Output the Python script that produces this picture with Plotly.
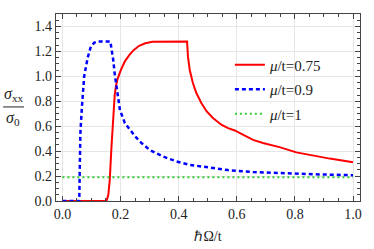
import plotly.graph_objects as go

red_x = [0.0, 0.152, 0.158, 0.163, 0.169, 0.175, 0.18, 0.184, 0.19, 0.201, 0.215, 0.23, 0.245, 0.264,
         0.285, 0.31, 0.35, 0.429, 0.432, 0.438, 0.449, 0.461, 0.478, 0.496, 0.518, 0.547, 0.57, 0.593,
         0.621, 0.656, 0.69, 0.75, 0.805, 0.86, 0.92, 1.0]
red_y = [0.0, 0.0, 0.05, 0.17, 0.44, 0.70, 0.85, 0.92, 0.98, 1.05, 1.12, 1.17, 1.21, 1.245,
         1.265, 1.278, 1.28, 1.28, 1.16, 1.053, 0.946, 0.866, 0.786, 0.72, 0.666, 0.612, 0.585, 0.566,
         0.532, 0.49, 0.465, 0.43, 0.39, 0.365, 0.34, 0.31]

blue_x = [0.0, 0.058, 0.060, 0.062, 0.067, 0.075, 0.087, 0.098, 0.11, 0.121, 0.165, 0.168, 0.175,
          0.18, 0.184, 0.19, 0.198, 0.215, 0.232, 0.25, 0.266, 0.30, 0.346, 0.392, 0.438, 0.507,
          0.57, 0.656, 0.77, 0.885, 1.0]
blue_y = [0.0, 0.0, 0.3, 0.55, 0.75, 1.0, 1.15, 1.24, 1.27, 1.28, 1.28, 1.24, 1.13,
          1.02, 0.95, 0.85, 0.73, 0.625, 0.57, 0.52, 0.478, 0.41, 0.357, 0.318, 0.29, 0.265,
          0.248, 0.232, 0.22, 0.213, 0.207]

green_x = [0.0, 1.0]
green_y = [0.19, 0.19]

names = ["<i>μ</i>/t=0.75", "<i>μ</i>/t=0.9", "<i>μ</i>/t=1"]
x_ticks = [0.0, 0.2, 0.4, 0.6, 0.8, 1.0]
y_ticks = [0.0, 0.2, 0.4, 0.6, 0.8, 1.0, 1.2, 1.4]

FONT = "'Liberation Serif', 'Times New Roman', Times, serif"

fig = go.Figure()
fig.add_trace(go.Scatter(x=red_x, y=red_y, mode="lines", name=names[0], legendgroup="a",
                         line=dict(color="#ff0000", width=2)))
fig.add_trace(go.Scatter(x=blue_x, y=blue_y, mode="lines", name=names[1], legendgroup="b",
                         line=dict(color="#0000ff", width=2.5, dash="4px,3px")))
fig.add_trace(go.Scatter(x=green_x, y=green_y, mode="lines", name=names[2], legendgroup="c",
                         line=dict(color="#33cc33", width=2, dash="2px,3px")))

axis_common = dict(
    showline=True, linecolor="#444444", linewidth=1.2, mirror="allticks",
    ticks="inside", ticklen=5, tickcolor="#444444", tickwidth=1,
    showgrid=True, gridcolor="#e6e6e6", gridwidth=1, zeroline=False, automargin=False,
    tickfont=dict(family=FONT, size=14, color="#222222"),
)
minor = dict(dtick=0.05, ticks="inside", ticklen=2.5, tickcolor="#444444", showgrid=False)

fig.update_layout(
    width=374, height=249,
    margin=dict(l=56, r=14, t=14, b=48),
    plot_bgcolor="white", paper_bgcolor="white",
    font=dict(family=FONT, size=14, color="#222222"),
    xaxis=dict(range=[-0.022, 1.024], tickvals=x_ticks, tickformat=".1f", minor=minor,
               title=dict(text="ℏΩ/t", font=dict(family=FONT, size=14), standoff=10),
               **axis_common),
    yaxis=dict(range=[0, 1.5], tickvals=y_ticks, tickformat=".1f", minor=minor,
               **axis_common),
    legend=dict(x=0.572, y=0.815, xanchor="left", yanchor="top",
                bgcolor="rgba(0,0,0,0)", font=dict(family=FONT, size=15),
                itemwidth=30, tracegroupgap=2),
    showlegend=True,
)

fig.add_annotation(x=-0.14, y=0.567, xref="paper", yref="paper", xanchor="center", yanchor="middle",
                   text="<i>σ</i><sub>xx</sub>", showarrow=False, font=dict(family=FONT, size=16))
fig.add_annotation(x=-0.14, y=0.439, xref="paper", yref="paper", xanchor="center", yanchor="middle",
                   text="<i>σ</i><sub>0</sub>", showarrow=False, font=dict(family=FONT, size=16))
fig.add_shape(type="line", xref="paper", yref="paper", x0=-0.174, x1=-0.105, y0=0.503, y1=0.503,
              line=dict(color="#222222", width=1))

fig.write_html("out.html", config={"displayModeBar": False},
               post_script="document.body.style.margin='0';document.body.style.overflow='hidden';")
